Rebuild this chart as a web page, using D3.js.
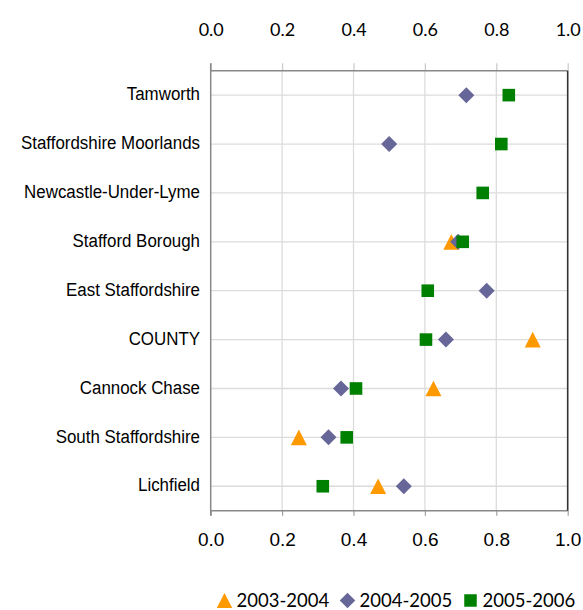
<!DOCTYPE html>
<html>
<head>
<meta charset="utf-8">
<script src="https://cdn.jsdelivr.net/npm/d3@7"></script>
<style>
  body { margin: 0; background: #fff; }
  svg { display: block; }
</style>
</head>
<body>
<svg id="chart" width="583" height="610"></svg>
<script>
// District scores by year (rows listed top to bottom)
const categories = [
  "Tamworth",
  "Staffordshire Moorlands",
  "Newcastle-Under-Lyme",
  "Stafford Borough",
  "East Staffordshire",
  "COUNTY",
  "Cannock Chase",
  "South Staffordshire",
  "Lichfield"
];
const values2003 = [null, null, null, 0.674, null, 0.902, 0.624, 0.247, 0.469];
const values2004 = [0.716, 0.500, null, 0.693, 0.773, 0.659, 0.365, 0.330, 0.541];
const values2005 = [0.835, 0.814, 0.762, 0.706, 0.608, 0.603, 0.407, 0.381, 0.314];
const seriesNames = ["2003-2004", "2004-2005", "2005-2006"];
const tickValues = [0, 0.2, 0.4, 0.6, 0.8, 1.0];

const W = 583, H = 610;
const margin = { top: 70.7, right: 15.3, bottom: 99.3, left: 210.7 };
const innerW = W - margin.left - margin.right;
const innerH = H - margin.top - margin.bottom;

const svg = d3.select("#chart");

const x = d3.scaleLinear().domain([0, 1]).range([margin.left, margin.left + innerW]);
const y = d3.scaleBand().domain(categories).range([margin.top, margin.top + innerH]);
const yc = c => y(c) + y.bandwidth() / 2;

// Marker shapes, each centred on its bounding box
const shapes = {
  triangle: s => `M0,${-s * 0.49}L${s * 0.5},${s * 0.49}L${-s * 0.5},${s * 0.49}Z`,
  diamond: s => `M0,${-s / 2}L${s / 2},0L0,${s / 2}L${-s / 2},0Z`,
  square: s => `M${-s / 2},${-s / 2}h${s}v${s}h${-s}Z`
};
const series = [
  { name: seriesNames[0], values: values2003, color: "#ff9900", shape: "triangle", size: 16 },
  { name: seriesNames[1], values: values2004, color: "#666699", shape: "diamond", size: 16 },
  { name: seriesNames[2], values: values2005, color: "#008000", shape: "square", size: 12.6 }
];

// Grid lines
const grid = svg.append("g");
grid.selectAll("line.v").data(tickValues.slice(1, -1)).join("line")
  .attr("x1", d => x(d)).attr("x2", d => x(d))
  .attr("y1", margin.top).attr("y2", margin.top + innerH)
  .attr("stroke", "#dcdcdc").attr("stroke-width", 1.3);
grid.selectAll("line.h").data(categories).join("line")
  .attr("x1", margin.left).attr("x2", margin.left + innerW)
  .attr("y1", d => yc(d)).attr("y2", d => yc(d))
  .attr("stroke", "#dcdcdc").attr("stroke-width", 1.3);

// Top and bottom value axes
const topAxis = d3.axisTop(x).tickValues(tickValues).tickSize(7.5).tickFormat(d3.format(".1f"));
const botAxis = d3.axisBottom(x).tickValues(tickValues).tickSize(5).tickFormat(d3.format(".1f"));

const gTop = svg.append("g").attr("transform", `translate(0,${margin.top})`).call(topAxis);
gTop.select(".domain").remove();
gTop.selectAll(".tick line").attr("stroke", "#c8c8c8").attr("stroke-width", 1.2);
gTop.selectAll(".tick text")
  .attr("font-family", "Lato, 'Open Sans', sans-serif").attr("font-size", 18)
  .attr("fill", "#000").attr("y", -35).attr("dy", 0);

const gBot = svg.append("g").attr("transform", `translate(0,${margin.top + innerH})`).call(botAxis);
gBot.select(".domain").remove();
gBot.selectAll(".tick line").attr("stroke", "#a0a0a0").attr("stroke-width", 1.2);
gBot.selectAll(".tick text")
  .attr("font-family", "'Liberation Sans', Arial, sans-serif").attr("font-size", 19)
  .attr("fill", "#000").attr("y", 35.5).attr("dy", 0);

// Plot frame
const frame = svg.append("g").attr("fill", "none");
frame.append("line").attr("x1", margin.left).attr("x2", margin.left + innerW)
  .attr("y1", margin.top).attr("y2", margin.top).attr("stroke", "#888").attr("stroke-width", 1.5);
frame.append("line").attr("x1", margin.left).attr("x2", margin.left + innerW)
  .attr("y1", margin.top + innerH).attr("y2", margin.top + innerH).attr("stroke", "#888").attr("stroke-width", 1.5);
frame.append("line").attr("x1", margin.left).attr("x2", margin.left)
  .attr("y1", margin.top - 7.5).attr("y2", margin.top + innerH + 5).attr("stroke", "#888").attr("stroke-width", 1.5);
frame.append("line").attr("x1", margin.left + innerW).attr("x2", margin.left + innerW)
  .attr("y1", margin.top).attr("y2", margin.top + innerH).attr("stroke", "#333").attr("stroke-width", 1.6);

// Category labels (narrowed type)
svg.append("g").selectAll("text").data(categories).join("text")
  .attr("transform", d => `translate(200,${yc(d) - 1.5}) scale(0.89,1)`)
  .attr("dy", "0.35em")
  .attr("text-anchor", "end")
  .attr("font-family", "'Liberation Sans', Arial, sans-serif")
  .attr("font-size", 19)
  .attr("fill", "#000")
  .text(d => d);

// Markers
series.forEach(s => {
  const pts = categories.map((c, i) => ({ c, v: s.values[i] })).filter(p => p.v != null);
  svg.append("g").selectAll("path").data(pts).join("path")
    .attr("transform", p => `translate(${x(p.v)},${yc(p.c)})`)
    .attr("d", shapes[s.shape](s.size))
    .attr("fill", s.color);
});

// Legend
const legendX = [224.5, 347.5, 470.5];
const legend = svg.append("g").attr("transform", "translate(0,600.5)");
series.forEach((s, i) => {
  const g = legend.append("g").attr("transform", `translate(${legendX[i]},0)`);
  g.append("path").attr("d", shapes[s.shape](s.shape === "square" ? 12.5 : 15.5)).attr("fill", s.color);
  g.append("text").attr("x", 12).attr("y", 6.5)
    .attr("font-family", "Lato, 'Open Sans', sans-serif").attr("font-size", 18.5)
    .attr("fill", "#000").text(s.name);
});
</script>
</body>
</html>
